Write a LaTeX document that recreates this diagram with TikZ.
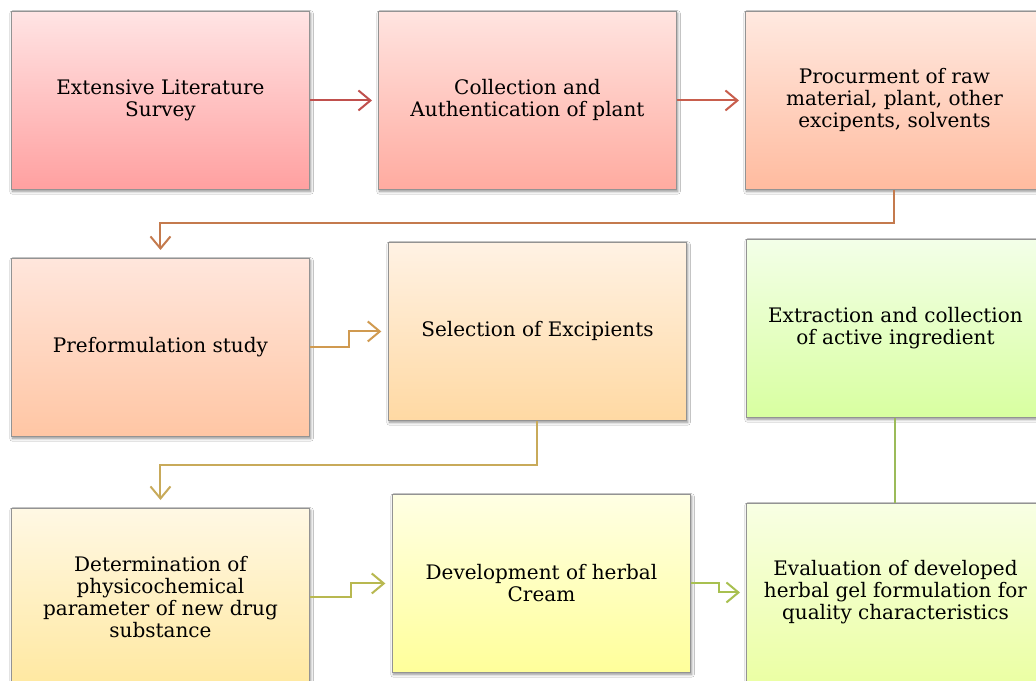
\documentclass[tikz,border=0pt]{standalone}
\usepackage{fontspec}
\setmainfont{DejaVu Serif}
\usetikzlibrary{arrows.meta,shadows.blur,calc}
\definecolor{aTop}{HTML}{FFE4E4}\definecolor{aBot}{HTML}{FFA0A0}
\definecolor{bTop}{HTML}{FFE4E0}\definecolor{bBot}{HTML}{FFABA0}
\definecolor{cTop}{HTML}{FFE9E0}\definecolor{cBot}{HTML}{FFBB9F}
\definecolor{dTop}{HTML}{FFE6DC}\definecolor{dBot}{HTML}{FFC6A4}
\definecolor{eTop}{HTML}{FFF2E4}\definecolor{eBot}{HTML}{FFD9A3}
\definecolor{fTop}{HTML}{F3FFE8}\definecolor{fBot}{HTML}{D8FFA0}
\definecolor{gTop}{HTML}{FFF8E4}\definecolor{gBot}{HTML}{FFE8A0}
\definecolor{hTop}{HTML}{FFFFE4}\definecolor{hBot}{HTML}{FFFF9A}
\definecolor{iTop}{HTML}{F8FFE4}\definecolor{iBot}{HTML}{EBFFA4}
\definecolor{lAB}{HTML}{C0504D}\definecolor{lBC}{HTML}{C85E4D}
\definecolor{lCD}{HTML}{C47A4D}\definecolor{lDE}{HTML}{D09A50}
\definecolor{lEG}{HTML}{C8AA5A}\definecolor{lGH}{HTML}{B8B850}
\definecolor{lHI}{HTML}{A8C050}\definecolor{lFI}{HTML}{9BBB59}
\tikzset{
  box/.style={draw=gray!85, line width=0.7pt, anchor=north west,
    minimum width=223.5pt, minimum height=133.5pt, inner sep=0pt,
    align=center, font=\fontsize{15}{16.5}\selectfont,
    blur shadow={shadow blur steps=6, shadow xshift=0.8pt, shadow yshift=-1.5pt, shadow opacity=45}},
  arr/.style={line width=1.5pt, -{Straight Barb[length=9pt,width=15pt,line width=1.5pt]}},
}
\begin{document}
\begin{tikzpicture}[x=0.75pt,y=-0.75pt]
\useasboundingbox (0,0) rectangle (1036,681);
\clip (0,0) rectangle (1036,681);
\fill[white] (0,0) rectangle (1036,681);
\node[box, top color=aTop, bottom color=aBot] (A) at (11,11) {Extensive Literature\\Survey};
\node[box, top color=bTop, bottom color=bBot] (B) at (378,11) {Collection and\\Authentication of plant};
\node[box, top color=cTop, bottom color=cBot] (C) at (745,11) {Procurment of raw\\material, plant, other\\excipents, solvents};
\node[box, top color=dTop, bottom color=dBot] (D) at (11,258) {Preformulation study};
\node[box, top color=eTop, bottom color=eBot] (E) at (388,242) {Selection of Excipients};
\node[box, top color=fTop, bottom color=fBot] (F) at (746,239) {Extraction and collection\\of active ingredient};
\node[box, top color=gTop, bottom color=gBot] (G) at (11,508) {Determination of\\physicochemical\\parameter of new drug\\substance};
\node[box, top color=hTop, bottom color=hBot] (H) at (392,494) {Development of herbal\\Cream};
\node[box, top color=iTop, bottom color=iBot] (I) at (746,503) {Evaluation of developed\\herbal gel formulation for\\quality characteristics};
\draw[arr, lAB, shorten >=4.5pt] (A.east) -- (B.west);
\draw[arr, lBC, shorten >=4.5pt] (B.east) -- (C.west);
\draw[arr, lCD, shorten >=6pt] (C.south) -- (C.south |- 0,223) -| (D.north);
\draw[arr, lDE, shorten >=5pt] (D.east) -- ++(39,0) |- (E.west);
\draw[arr, lEG, shorten >=6pt] (E.south) -- (E.south |- 0,465) -| (G.north);
\draw[arr, lGH, shorten >=5pt] (G.east) -- ++(41,0) |- (H.west);
\draw[arr, lHI, shorten >=4.5pt] (H.east) -- ++(28,0) |- (I.west);
\draw[lFI, line width=1.5pt] (F.south) -- (I.north);
\end{tikzpicture}
\end{document}
